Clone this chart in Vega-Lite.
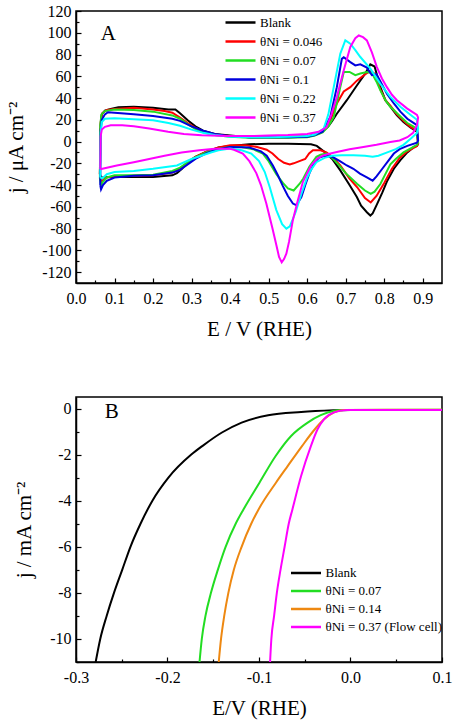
{
"$schema": "https://vega.github.io/schema/vega-lite/v6.json",
"padding": {"left": 4, "top": 2, "right": 8, "bottom": 4},
"columns": 1,
"align": "none",
"spacing": 56,
"resolve": {"scale": {"color": "independent", "x": "independent", "y": "independent"}},
"config": {
  "font": "Liberation Serif",
  "view": {"stroke": "black", "strokeWidth": 1.5},
  "legend": {"labelFont": "Liberation Serif", "labelColor": "black", "padding": 0}
},
"concat": [
{
  "width": 366, "height": 272,
  "encoding": {
    "x": {"field": "E", "type": "quantitative", "scale": {"domain": [0, 0.95], "nice": false, "zero": false},
      "axis": {"title": "E / V (RHE)", "values": [0,0.05,0.1,0.15,0.2,0.25,0.3,0.35,0.4,0.45,0.5,0.55,0.6,0.65,0.7,0.75,0.8,0.85,0.9],
        "labelExpr": "abs(round(datum.value*10)-datum.value*10)<0.001 ? replace(format(datum.value,'.1f'),'−','-') : ''",
        "tickSize": {"condition": {"test": "abs(round(datum.value*10)-datum.value*10)<0.001", "value": -5}, "value": -3},
        "labelPadding": 12, "titlePadding": 10, "grid": false, "labelFlush": false, "labelOverlap": false,
        "labelFont": "Liberation Serif", "labelFontSize": 16, "labelColor": "black", "titleFont": "Liberation Serif", "titleFontSize": 21, "titleFontWeight": "normal", "titleColor": "black",
        "domainColor": "black", "domainWidth": 1.5, "tickColor": "black", "tickWidth": 1.2}},
    "y": {"field": "j", "type": "quantitative", "scale": {"domain": [-130, 120], "nice": false, "zero": false},
      "axis": {"title": "j / μA cm⁻²", "values": [-120,-110,-100,-90,-80,-70,-60,-50,-40,-30,-20,-10,0,10,20,30,40,50,60,70,80,90,100,110,120],
        "labelExpr": "datum.value % 20 == 0 ? replace(format(datum.value,'d'),'−','-') : ''",
        "tickSize": {"condition": {"test": "datum.value % 20 == 0", "value": -5}, "value": -3},
        "labelPadding": 10, "titlePadding": 15, "grid": false, "labelFlush": false, "labelOverlap": false,
        "labelFont": "Liberation Serif", "labelFontSize": 16, "labelColor": "black", "titleFont": "Liberation Serif", "titleFontSize": 21, "titleFontWeight": "normal", "titleColor": "black",
        "domainColor": "black", "domainWidth": 1.5, "tickColor": "black", "tickWidth": 1.2}}
  },
  "layer": [
  {
    "data": {"values": [
{"s":"Blank","o":1,"E":0.062,"j":-30},{"s":"Blank","o":2,"E":0.064,"j":15},{"s":"Blank","o":3,"E":0.067,"j":25},{"s":"Blank","o":4,"E":0.075,"j":28.5},{"s":"Blank","o":5,"E":0.09,"j":30},{"s":"Blank","o":6,"E":0.11,"j":31.5},{"s":"Blank","o":7,"E":0.15,"j":32},{"s":"Blank","o":8,"E":0.2,"j":31},{"s":"Blank","o":9,"E":0.24,"j":29.5},{"s":"Blank","o":10,"E":0.258,"j":29.5},{"s":"Blank","o":11,"E":0.27,"j":26},{"s":"Blank","o":12,"E":0.29,"j":19.5},{"s":"Blank","o":13,"E":0.31,"j":14},{"s":"Blank","o":14,"E":0.33,"j":10},{"s":"Blank","o":15,"E":0.36,"j":7},{"s":"Blank","o":16,"E":0.4,"j":5.5},{"s":"Blank","o":17,"E":0.45,"j":4},{"s":"Blank","o":18,"E":0.5,"j":4},{"s":"Blank","o":19,"E":0.55,"j":4},{"s":"Blank","o":20,"E":0.6,"j":4.5},{"s":"Blank","o":21,"E":0.62,"j":6},{"s":"Blank","o":22,"E":0.64,"j":9},{"s":"Blank","o":23,"E":0.655,"j":14},{"s":"Blank","o":24,"E":0.665,"j":19},{"s":"Blank","o":25,"E":0.677,"j":25.6},{"s":"Blank","o":26,"E":0.703,"j":38},{"s":"Blank","o":27,"E":0.729,"j":51.5},{"s":"Blank","o":28,"E":0.751,"j":62.5},{"s":"Blank","o":29,"E":0.764,"j":71},{"s":"Blank","o":30,"E":0.775,"j":69},{"s":"Blank","o":31,"E":0.79,"j":50},{"s":"Blank","o":32,"E":0.803,"j":38},{"s":"Blank","o":33,"E":0.816,"j":32},{"s":"Blank","o":34,"E":0.833,"j":24},{"s":"Blank","o":35,"E":0.85,"j":18},{"s":"Blank","o":36,"E":0.868,"j":13},{"s":"Blank","o":37,"E":0.885,"j":9},
{"s":"Blank","o":38,"E":0.888,"j":-2},{"s":"Blank","o":39,"E":0.885,"j":-4},{"s":"Blank","o":40,"E":0.877,"j":-5},{"s":"Blank","o":41,"E":0.86,"j":-10},{"s":"Blank","o":42,"E":0.842,"j":-17},{"s":"Blank","o":43,"E":0.825,"j":-25},{"s":"Blank","o":44,"E":0.808,"j":-36},{"s":"Blank","o":45,"E":0.795,"j":-47},{"s":"Blank","o":46,"E":0.782,"j":-57},{"s":"Blank","o":47,"E":0.77,"j":-66},{"s":"Blank","o":48,"E":0.764,"j":-68},{"s":"Blank","o":49,"E":0.755,"j":-65},{"s":"Blank","o":50,"E":0.74,"j":-59},{"s":"Blank","o":51,"E":0.729,"j":-51},{"s":"Blank","o":52,"E":0.71,"j":-40},{"s":"Blank","o":53,"E":0.686,"j":-26.5},{"s":"Blank","o":54,"E":0.665,"j":-16},{"s":"Blank","o":55,"E":0.643,"j":-9},{"s":"Blank","o":56,"E":0.625,"j":-4},{"s":"Blank","o":57,"E":0.61,"j":-2.5},{"s":"Blank","o":58,"E":0.55,"j":-2},{"s":"Blank","o":59,"E":0.5,"j":-2},{"s":"Blank","o":60,"E":0.45,"j":-2.5},{"s":"Blank","o":61,"E":0.4,"j":-4},{"s":"Blank","o":62,"E":0.37,"j":-5.5},{"s":"Blank","o":63,"E":0.34,"j":-9},{"s":"Blank","o":64,"E":0.31,"j":-14},{"s":"Blank","o":65,"E":0.29,"j":-19},{"s":"Blank","o":66,"E":0.275,"j":-25},{"s":"Blank","o":67,"E":0.262,"j":-29},{"s":"Blank","o":68,"E":0.25,"j":-31},{"s":"Blank","o":69,"E":0.2,"j":-32.5},{"s":"Blank","o":70,"E":0.15,"j":-32.5},{"s":"Blank","o":71,"E":0.1,"j":-32.5},{"s":"Blank","o":72,"E":0.08,"j":-32.5},{"s":"Blank","o":73,"E":0.07,"j":-33},{"s":"Blank","o":74,"E":0.065,"j":-33},{"s":"Blank","o":75,"E":0.062,"j":-30},

{"s":"θNi = 0.046","o":1,"E":0.062,"j":-30},{"s":"θNi = 0.046","o":2,"E":0.064,"j":18},{"s":"θNi = 0.046","o":3,"E":0.068,"j":26},{"s":"θNi = 0.046","o":4,"E":0.08,"j":29},{"s":"θNi = 0.046","o":5,"E":0.1,"j":30},{"s":"θNi = 0.046","o":6,"E":0.15,"j":31},{"s":"θNi = 0.046","o":7,"E":0.2,"j":29.5},{"s":"θNi = 0.046","o":8,"E":0.23,"j":28},{"s":"θNi = 0.046","o":9,"E":0.25,"j":26.5},{"s":"θNi = 0.046","o":10,"E":0.27,"j":22},{"s":"θNi = 0.046","o":11,"E":0.29,"j":17},{"s":"θNi = 0.046","o":12,"E":0.31,"j":12.5},{"s":"θNi = 0.046","o":13,"E":0.33,"j":9},{"s":"θNi = 0.046","o":14,"E":0.36,"j":6.5},{"s":"θNi = 0.046","o":15,"E":0.4,"j":5},{"s":"θNi = 0.046","o":16,"E":0.45,"j":4},{"s":"θNi = 0.046","o":17,"E":0.5,"j":4},{"s":"θNi = 0.046","o":18,"E":0.55,"j":4.5},{"s":"θNi = 0.046","o":19,"E":0.6,"j":5},{"s":"θNi = 0.046","o":20,"E":0.62,"j":6.5},{"s":"θNi = 0.046","o":21,"E":0.64,"j":10},{"s":"θNi = 0.046","o":22,"E":0.655,"j":16},{"s":"θNi = 0.046","o":23,"E":0.66,"j":19.5},{"s":"θNi = 0.046","o":24,"E":0.677,"j":35},{"s":"θNi = 0.046","o":25,"E":0.695,"j":46},{"s":"θNi = 0.046","o":26,"E":0.712,"j":50},{"s":"θNi = 0.046","o":27,"E":0.729,"j":56},{"s":"θNi = 0.046","o":28,"E":0.747,"j":61},{"s":"θNi = 0.046","o":29,"E":0.764,"j":65},{"s":"θNi = 0.046","o":30,"E":0.777,"j":62},{"s":"θNi = 0.046","o":31,"E":0.79,"j":48},{"s":"θNi = 0.046","o":32,"E":0.803,"j":38},{"s":"θNi = 0.046","o":33,"E":0.816,"j":33},{"s":"θNi = 0.046","o":34,"E":0.833,"j":25},{"s":"θNi = 0.046","o":35,"E":0.85,"j":19},{"s":"θNi = 0.046","o":36,"E":0.868,"j":13.5},{"s":"θNi = 0.046","o":37,"E":0.885,"j":10},
{"s":"θNi = 0.046","o":38,"E":0.888,"j":-2},{"s":"θNi = 0.046","o":39,"E":0.885,"j":-4},{"s":"θNi = 0.046","o":40,"E":0.86,"j":-9},{"s":"θNi = 0.046","o":41,"E":0.84,"j":-15},{"s":"θNi = 0.046","o":42,"E":0.82,"j":-25},{"s":"θNi = 0.046","o":43,"E":0.8,"j":-38},{"s":"θNi = 0.046","o":44,"E":0.78,"j":-50},{"s":"θNi = 0.046","o":45,"E":0.765,"j":-56},{"s":"θNi = 0.046","o":46,"E":0.75,"j":-52},{"s":"θNi = 0.046","o":47,"E":0.73,"j":-42},{"s":"θNi = 0.046","o":48,"E":0.71,"j":-34},{"s":"θNi = 0.046","o":49,"E":0.686,"j":-22},{"s":"θNi = 0.046","o":50,"E":0.665,"j":-14},{"s":"θNi = 0.046","o":51,"E":0.65,"j":-10},{"s":"θNi = 0.046","o":52,"E":0.635,"j":-8},{"s":"θNi = 0.046","o":53,"E":0.615,"j":-8},{"s":"θNi = 0.046","o":54,"E":0.605,"j":-11},{"s":"θNi = 0.046","o":55,"E":0.595,"j":-16},{"s":"θNi = 0.046","o":56,"E":0.58,"j":-18},{"s":"θNi = 0.046","o":57,"E":0.565,"j":-20},{"s":"θNi = 0.046","o":58,"E":0.555,"j":-21},{"s":"θNi = 0.046","o":59,"E":0.54,"j":-19.5},{"s":"θNi = 0.046","o":60,"E":0.525,"j":-16},{"s":"θNi = 0.046","o":61,"E":0.51,"j":-11},{"s":"θNi = 0.046","o":62,"E":0.495,"j":-7.5},{"s":"θNi = 0.046","o":63,"E":0.47,"j":-5},{"s":"θNi = 0.046","o":64,"E":0.44,"j":-3.5},{"s":"θNi = 0.046","o":65,"E":0.4,"j":-3.5},{"s":"θNi = 0.046","o":66,"E":0.37,"j":-5.5},{"s":"θNi = 0.046","o":67,"E":0.34,"j":-9},{"s":"θNi = 0.046","o":68,"E":0.31,"j":-14},{"s":"θNi = 0.046","o":69,"E":0.29,"j":-19},{"s":"θNi = 0.046","o":70,"E":0.27,"j":-25},{"s":"θNi = 0.046","o":71,"E":0.25,"j":-28.5},{"s":"θNi = 0.046","o":72,"E":0.2,"j":-31},{"s":"θNi = 0.046","o":73,"E":0.15,"j":-31.5},{"s":"θNi = 0.046","o":74,"E":0.1,"j":-32},{"s":"θNi = 0.046","o":75,"E":0.08,"j":-33},{"s":"θNi = 0.046","o":76,"E":0.07,"j":-35},{"s":"θNi = 0.046","o":77,"E":0.065,"j":-37},{"s":"θNi = 0.046","o":78,"E":0.062,"j":-30},

{"s":"θNi = 0.07","o":1,"E":0.062,"j":-34},{"s":"θNi = 0.07","o":2,"E":0.063,"j":15},{"s":"θNi = 0.07","o":3,"E":0.066,"j":25},{"s":"θNi = 0.07","o":4,"E":0.075,"j":28},{"s":"θNi = 0.07","o":5,"E":0.1,"j":29.5},{"s":"θNi = 0.07","o":6,"E":0.15,"j":29},{"s":"θNi = 0.07","o":7,"E":0.2,"j":27.5},{"s":"θNi = 0.07","o":8,"E":0.25,"j":24},{"s":"θNi = 0.07","o":9,"E":0.27,"j":21},{"s":"θNi = 0.07","o":10,"E":0.29,"j":16},{"s":"θNi = 0.07","o":11,"E":0.31,"j":11.5},{"s":"θNi = 0.07","o":12,"E":0.33,"j":8.5},{"s":"θNi = 0.07","o":13,"E":0.36,"j":6},{"s":"θNi = 0.07","o":14,"E":0.4,"j":4.5},{"s":"θNi = 0.07","o":15,"E":0.45,"j":3.5},{"s":"θNi = 0.07","o":16,"E":0.5,"j":3.5},{"s":"θNi = 0.07","o":17,"E":0.55,"j":3.5},{"s":"θNi = 0.07","o":18,"E":0.6,"j":4},{"s":"θNi = 0.07","o":19,"E":0.62,"j":5.5},{"s":"θNi = 0.07","o":20,"E":0.64,"j":8.5},{"s":"θNi = 0.07","o":21,"E":0.655,"j":14},{"s":"θNi = 0.07","o":22,"E":0.669,"j":22.5},{"s":"θNi = 0.07","o":23,"E":0.686,"j":50},{"s":"θNi = 0.07","o":24,"E":0.695,"j":64},{"s":"θNi = 0.07","o":25,"E":0.71,"j":64},{"s":"θNi = 0.07","o":26,"E":0.725,"j":61},{"s":"θNi = 0.07","o":27,"E":0.738,"j":62.5},{"s":"θNi = 0.07","o":28,"E":0.755,"j":64},{"s":"θNi = 0.07","o":29,"E":0.768,"j":63},{"s":"θNi = 0.07","o":30,"E":0.78,"j":55},{"s":"θNi = 0.07","o":31,"E":0.79,"j":47},{"s":"θNi = 0.07","o":32,"E":0.803,"j":38},{"s":"θNi = 0.07","o":33,"E":0.816,"j":32},{"s":"θNi = 0.07","o":34,"E":0.842,"j":23},{"s":"θNi = 0.07","o":35,"E":0.86,"j":17},{"s":"θNi = 0.07","o":36,"E":0.877,"j":13.5},{"s":"θNi = 0.07","o":37,"E":0.885,"j":10},
{"s":"θNi = 0.07","o":38,"E":0.888,"j":-1},{"s":"θNi = 0.07","o":39,"E":0.885,"j":-3},{"s":"θNi = 0.07","o":40,"E":0.87,"j":-6},{"s":"θNi = 0.07","o":41,"E":0.85,"j":-10},{"s":"θNi = 0.07","o":42,"E":0.83,"j":-16},{"s":"θNi = 0.07","o":43,"E":0.816,"j":-21},{"s":"θNi = 0.07","o":44,"E":0.8,"j":-32},{"s":"θNi = 0.07","o":45,"E":0.79,"j":-39},{"s":"θNi = 0.07","o":46,"E":0.775,"j":-46},{"s":"θNi = 0.07","o":47,"E":0.765,"j":-48},{"s":"θNi = 0.07","o":48,"E":0.75,"j":-45},{"s":"θNi = 0.07","o":49,"E":0.73,"j":-39},{"s":"θNi = 0.07","o":50,"E":0.7,"j":-29},{"s":"θNi = 0.07","o":51,"E":0.686,"j":-23},{"s":"θNi = 0.07","o":52,"E":0.665,"j":-15},{"s":"θNi = 0.07","o":53,"E":0.65,"j":-11},{"s":"θNi = 0.07","o":54,"E":0.635,"j":-12},{"s":"θNi = 0.07","o":55,"E":0.624,"j":-14},{"s":"θNi = 0.07","o":56,"E":0.606,"j":-23},{"s":"θNi = 0.07","o":57,"E":0.59,"j":-34},{"s":"θNi = 0.07","o":58,"E":0.58,"j":-39},{"s":"θNi = 0.07","o":59,"E":0.565,"j":-45},{"s":"θNi = 0.07","o":60,"E":0.55,"j":-43},{"s":"θNi = 0.07","o":61,"E":0.537,"j":-38},{"s":"θNi = 0.07","o":62,"E":0.52,"j":-30},{"s":"θNi = 0.07","o":63,"E":0.5,"j":-18},{"s":"θNi = 0.07","o":64,"E":0.485,"j":-11},{"s":"θNi = 0.07","o":65,"E":0.46,"j":-7},{"s":"θNi = 0.07","o":66,"E":0.43,"j":-5},{"s":"θNi = 0.07","o":67,"E":0.4,"j":-5},{"s":"θNi = 0.07","o":68,"E":0.37,"j":-6.5},{"s":"θNi = 0.07","o":69,"E":0.34,"j":-9.5},{"s":"θNi = 0.07","o":70,"E":0.31,"j":-14.5},{"s":"θNi = 0.07","o":71,"E":0.29,"j":-19},{"s":"θNi = 0.07","o":72,"E":0.27,"j":-24},{"s":"θNi = 0.07","o":73,"E":0.25,"j":-27},{"s":"θNi = 0.07","o":74,"E":0.2,"j":-30.5},{"s":"θNi = 0.07","o":75,"E":0.15,"j":-31},{"s":"θNi = 0.07","o":76,"E":0.1,"j":-31},{"s":"θNi = 0.07","o":77,"E":0.08,"j":-33},{"s":"θNi = 0.07","o":78,"E":0.07,"j":-37},{"s":"θNi = 0.07","o":79,"E":0.065,"j":-40},{"s":"θNi = 0.07","o":80,"E":0.062,"j":-34},

{"s":"θNi = 0.1","o":1,"E":0.063,"j":-40},{"s":"θNi = 0.1","o":2,"E":0.064,"j":10},{"s":"θNi = 0.1","o":3,"E":0.067,"j":20},{"s":"θNi = 0.1","o":4,"E":0.075,"j":25},{"s":"θNi = 0.1","o":5,"E":0.083,"j":27},{"s":"θNi = 0.1","o":6,"E":0.1,"j":26.5},{"s":"θNi = 0.1","o":7,"E":0.15,"j":25},{"s":"θNi = 0.1","o":8,"E":0.2,"j":23.5},{"s":"θNi = 0.1","o":9,"E":0.25,"j":21},{"s":"θNi = 0.1","o":10,"E":0.27,"j":19},{"s":"θNi = 0.1","o":11,"E":0.3,"j":14},{"s":"θNi = 0.1","o":12,"E":0.33,"j":10},{"s":"θNi = 0.1","o":13,"E":0.36,"j":7},{"s":"θNi = 0.1","o":14,"E":0.4,"j":5},{"s":"θNi = 0.1","o":15,"E":0.45,"j":4},{"s":"θNi = 0.1","o":16,"E":0.5,"j":4},{"s":"θNi = 0.1","o":17,"E":0.55,"j":4},{"s":"θNi = 0.1","o":18,"E":0.6,"j":4.5},{"s":"θNi = 0.1","o":19,"E":0.62,"j":6},{"s":"θNi = 0.1","o":20,"E":0.64,"j":9},{"s":"θNi = 0.1","o":21,"E":0.66,"j":22.5},{"s":"θNi = 0.1","o":22,"E":0.677,"j":50},{"s":"θNi = 0.1","o":23,"E":0.69,"j":76},{"s":"θNi = 0.1","o":24,"E":0.695,"j":77.5},{"s":"θNi = 0.1","o":25,"E":0.712,"j":73},{"s":"θNi = 0.1","o":26,"E":0.725,"j":70},{"s":"θNi = 0.1","o":27,"E":0.738,"j":71},{"s":"θNi = 0.1","o":28,"E":0.755,"j":68},{"s":"θNi = 0.1","o":29,"E":0.768,"j":61},{"s":"θNi = 0.1","o":30,"E":0.78,"j":62},{"s":"θNi = 0.1","o":31,"E":0.795,"j":52},{"s":"θNi = 0.1","o":32,"E":0.807,"j":44},{"s":"θNi = 0.1","o":33,"E":0.825,"j":35},{"s":"θNi = 0.1","o":34,"E":0.842,"j":27.5},{"s":"θNi = 0.1","o":35,"E":0.86,"j":21},{"s":"θNi = 0.1","o":36,"E":0.877,"j":17},{"s":"θNi = 0.1","o":37,"E":0.885,"j":15},
{"s":"θNi = 0.1","o":38,"E":0.888,"j":1},{"s":"θNi = 0.1","o":39,"E":0.885,"j":-1},{"s":"θNi = 0.1","o":40,"E":0.86,"j":-4},{"s":"θNi = 0.1","o":41,"E":0.84,"j":-7},{"s":"θNi = 0.1","o":42,"E":0.825,"j":-11},{"s":"θNi = 0.1","o":43,"E":0.81,"j":-18},{"s":"θNi = 0.1","o":44,"E":0.795,"j":-25},{"s":"θNi = 0.1","o":45,"E":0.78,"j":-32},{"s":"θNi = 0.1","o":46,"E":0.77,"j":-36},{"s":"θNi = 0.1","o":47,"E":0.755,"j":-33},{"s":"θNi = 0.1","o":48,"E":0.737,"j":-29.5},{"s":"θNi = 0.1","o":49,"E":0.72,"j":-25},{"s":"θNi = 0.1","o":50,"E":0.703,"j":-22},{"s":"θNi = 0.1","o":51,"E":0.685,"j":-18},{"s":"θNi = 0.1","o":52,"E":0.665,"j":-14},{"s":"θNi = 0.1","o":53,"E":0.645,"j":-13},{"s":"θNi = 0.1","o":54,"E":0.63,"j":-15},{"s":"θNi = 0.1","o":55,"E":0.618,"j":-20},{"s":"θNi = 0.1","o":56,"E":0.606,"j":-29},{"s":"θNi = 0.1","o":57,"E":0.595,"j":-40},{"s":"θNi = 0.1","o":58,"E":0.585,"j":-51},{"s":"θNi = 0.1","o":59,"E":0.572,"j":-58.5},{"s":"θNi = 0.1","o":60,"E":0.563,"j":-57},{"s":"θNi = 0.1","o":61,"E":0.55,"j":-50},{"s":"θNi = 0.1","o":62,"E":0.537,"j":-41},{"s":"θNi = 0.1","o":63,"E":0.524,"j":-31},{"s":"θNi = 0.1","o":64,"E":0.511,"j":-22},{"s":"θNi = 0.1","o":65,"E":0.495,"j":-13},{"s":"θNi = 0.1","o":66,"E":0.48,"j":-9},{"s":"θNi = 0.1","o":67,"E":0.45,"j":-5.5},{"s":"θNi = 0.1","o":68,"E":0.4,"j":-5},{"s":"θNi = 0.1","o":69,"E":0.37,"j":-7},{"s":"θNi = 0.1","o":70,"E":0.34,"j":-10.5},{"s":"θNi = 0.1","o":71,"E":0.31,"j":-16},{"s":"θNi = 0.1","o":72,"E":0.29,"j":-21},{"s":"θNi = 0.1","o":73,"E":0.27,"j":-26},{"s":"θNi = 0.1","o":74,"E":0.25,"j":-28.5},{"s":"θNi = 0.1","o":75,"E":0.2,"j":-31},{"s":"θNi = 0.1","o":76,"E":0.15,"j":-31.5},{"s":"θNi = 0.1","o":77,"E":0.1,"j":-33},{"s":"θNi = 0.1","o":78,"E":0.08,"j":-36},{"s":"θNi = 0.1","o":79,"E":0.07,"j":-40},{"s":"θNi = 0.1","o":80,"E":0.065,"j":-44},{"s":"θNi = 0.1","o":81,"E":0.063,"j":-40},

{"s":"θNi = 0.22","o":1,"E":0.063,"j":-33},{"s":"θNi = 0.22","o":2,"E":0.064,"j":8},{"s":"θNi = 0.22","o":3,"E":0.067,"j":18},{"s":"θNi = 0.22","o":4,"E":0.075,"j":21},{"s":"θNi = 0.22","o":5,"E":0.1,"j":21.5},{"s":"θNi = 0.22","o":6,"E":0.15,"j":20.5},{"s":"θNi = 0.22","o":7,"E":0.2,"j":19.5},{"s":"θNi = 0.22","o":8,"E":0.24,"j":17},{"s":"θNi = 0.22","o":9,"E":0.27,"j":14.5},{"s":"θNi = 0.22","o":10,"E":0.3,"j":11},{"s":"θNi = 0.22","o":11,"E":0.33,"j":8},{"s":"θNi = 0.22","o":12,"E":0.36,"j":6},{"s":"θNi = 0.22","o":13,"E":0.4,"j":4.5},{"s":"θNi = 0.22","o":14,"E":0.45,"j":4},{"s":"θNi = 0.22","o":15,"E":0.5,"j":4},{"s":"θNi = 0.22","o":16,"E":0.55,"j":4.5},{"s":"θNi = 0.22","o":17,"E":0.6,"j":5},{"s":"θNi = 0.22","o":18,"E":0.62,"j":6.5},{"s":"θNi = 0.22","o":19,"E":0.643,"j":12},{"s":"θNi = 0.22","o":20,"E":0.655,"j":25},{"s":"θNi = 0.22","o":21,"E":0.669,"j":50},{"s":"θNi = 0.22","o":22,"E":0.686,"j":80.8},{"s":"θNi = 0.22","o":23,"E":0.699,"j":93},{"s":"θNi = 0.22","o":24,"E":0.712,"j":90},{"s":"θNi = 0.22","o":25,"E":0.725,"j":84},{"s":"θNi = 0.22","o":26,"E":0.738,"j":77.7},{"s":"θNi = 0.22","o":27,"E":0.764,"j":67},{"s":"θNi = 0.22","o":28,"E":0.79,"j":53},{"s":"θNi = 0.22","o":29,"E":0.816,"j":41},{"s":"θNi = 0.22","o":30,"E":0.842,"j":32},{"s":"θNi = 0.22","o":31,"E":0.868,"j":24.7},{"s":"θNi = 0.22","o":32,"E":0.885,"j":20},
{"s":"θNi = 0.22","o":33,"E":0.888,"j":12},{"s":"θNi = 0.22","o":34,"E":0.885,"j":8},{"s":"θNi = 0.22","o":35,"E":0.87,"j":3},{"s":"θNi = 0.22","o":36,"E":0.85,"j":-3},{"s":"θNi = 0.22","o":37,"E":0.83,"j":-7},{"s":"θNi = 0.22","o":38,"E":0.808,"j":-10},{"s":"θNi = 0.22","o":39,"E":0.785,"j":-13},{"s":"θNi = 0.22","o":40,"E":0.77,"j":-14},{"s":"θNi = 0.22","o":41,"E":0.75,"j":-13},{"s":"θNi = 0.22","o":42,"E":0.72,"j":-12.6},{"s":"θNi = 0.22","o":43,"E":0.69,"j":-12.6},{"s":"θNi = 0.22","o":44,"E":0.665,"j":-13},{"s":"θNi = 0.22","o":45,"E":0.645,"j":-15},{"s":"θNi = 0.22","o":46,"E":0.624,"j":-19},{"s":"θNi = 0.22","o":47,"E":0.61,"j":-26},{"s":"θNi = 0.22","o":48,"E":0.6,"j":-33},{"s":"θNi = 0.22","o":49,"E":0.585,"j":-48},{"s":"θNi = 0.22","o":50,"E":0.57,"j":-65},{"s":"θNi = 0.22","o":51,"E":0.555,"j":-78},{"s":"θNi = 0.22","o":52,"E":0.546,"j":-80},{"s":"θNi = 0.22","o":53,"E":0.535,"j":-76},{"s":"θNi = 0.22","o":54,"E":0.52,"j":-63},{"s":"θNi = 0.22","o":55,"E":0.503,"j":-42},{"s":"θNi = 0.22","o":56,"E":0.49,"j":-28},{"s":"θNi = 0.22","o":57,"E":0.475,"j":-18},{"s":"θNi = 0.22","o":58,"E":0.455,"j":-11},{"s":"θNi = 0.22","o":59,"E":0.43,"j":-8},{"s":"θNi = 0.22","o":60,"E":0.4,"j":-6.5},{"s":"θNi = 0.22","o":61,"E":0.37,"j":-8},{"s":"θNi = 0.22","o":62,"E":0.35,"j":-10},{"s":"θNi = 0.22","o":63,"E":0.3,"j":-16},{"s":"θNi = 0.22","o":64,"E":0.262,"j":-22},{"s":"θNi = 0.22","o":65,"E":0.2,"j":-25},{"s":"θNi = 0.22","o":66,"E":0.15,"j":-27},{"s":"θNi = 0.22","o":67,"E":0.1,"j":-28},{"s":"θNi = 0.22","o":68,"E":0.08,"j":-30},{"s":"θNi = 0.22","o":69,"E":0.068,"j":-34},{"s":"θNi = 0.22","o":70,"E":0.063,"j":-33},

{"s":"θNi = 0.37","o":1,"E":0.063,"j":-25.5},{"s":"θNi = 0.37","o":2,"E":0.064,"j":5},{"s":"θNi = 0.37","o":3,"E":0.067,"j":11},{"s":"θNi = 0.37","o":4,"E":0.075,"j":13.5},{"s":"θNi = 0.37","o":5,"E":0.09,"j":15},{"s":"θNi = 0.37","o":6,"E":0.12,"j":15},{"s":"θNi = 0.37","o":7,"E":0.15,"j":14},{"s":"θNi = 0.37","o":8,"E":0.19,"j":12},{"s":"θNi = 0.37","o":9,"E":0.239,"j":9},{"s":"θNi = 0.37","o":10,"E":0.28,"j":7},{"s":"θNi = 0.37","o":11,"E":0.326,"j":5.9},{"s":"θNi = 0.37","o":12,"E":0.395,"j":5},{"s":"θNi = 0.37","o":13,"E":0.45,"j":5},{"s":"θNi = 0.37","o":14,"E":0.5,"j":5.5},{"s":"θNi = 0.37","o":15,"E":0.55,"j":6},{"s":"θNi = 0.37","o":16,"E":0.6,"j":7},{"s":"θNi = 0.37","o":17,"E":0.63,"j":9},{"s":"θNi = 0.37","o":18,"E":0.65,"j":13},{"s":"θNi = 0.37","o":19,"E":0.663,"j":25},{"s":"θNi = 0.37","o":20,"E":0.677,"j":41},{"s":"θNi = 0.37","o":21,"E":0.695,"j":65.5},{"s":"θNi = 0.37","o":22,"E":0.712,"j":87},{"s":"θNi = 0.37","o":23,"E":0.725,"j":95},{"s":"θNi = 0.37","o":24,"E":0.734,"j":97.5},{"s":"θNi = 0.37","o":25,"E":0.745,"j":96},{"s":"θNi = 0.37","o":26,"E":0.755,"j":93},{"s":"θNi = 0.37","o":27,"E":0.768,"j":82},{"s":"θNi = 0.37","o":28,"E":0.781,"j":68.5},{"s":"θNi = 0.37","o":29,"E":0.794,"j":58},{"s":"θNi = 0.37","o":30,"E":0.807,"j":50},{"s":"θNi = 0.37","o":31,"E":0.82,"j":43},{"s":"θNi = 0.37","o":32,"E":0.833,"j":38},{"s":"θNi = 0.37","o":33,"E":0.859,"j":30.5},{"s":"θNi = 0.37","o":34,"E":0.885,"j":24.5},
{"s":"θNi = 0.37","o":35,"E":0.888,"j":22},{"s":"θNi = 0.37","o":36,"E":0.885,"j":15},{"s":"θNi = 0.37","o":37,"E":0.875,"j":8},{"s":"θNi = 0.37","o":38,"E":0.86,"j":4},{"s":"θNi = 0.37","o":39,"E":0.84,"j":1},{"s":"θNi = 0.37","o":40,"E":0.816,"j":-0.5},{"s":"θNi = 0.37","o":41,"E":0.78,"j":-3},{"s":"θNi = 0.37","o":42,"E":0.746,"j":-5},{"s":"θNi = 0.37","o":43,"E":0.71,"j":-7},{"s":"θNi = 0.37","o":44,"E":0.677,"j":-9.6},{"s":"θNi = 0.37","o":45,"E":0.655,"j":-11.5},{"s":"θNi = 0.37","o":46,"E":0.64,"j":-13},{"s":"θNi = 0.37","o":47,"E":0.625,"j":-16},{"s":"θNi = 0.37","o":48,"E":0.61,"j":-22},{"s":"θNi = 0.37","o":49,"E":0.6,"j":-29},{"s":"θNi = 0.37","o":50,"E":0.589,"j":-37},{"s":"θNi = 0.37","o":51,"E":0.575,"j":-55},{"s":"θNi = 0.37","o":52,"E":0.563,"j":-72},{"s":"θNi = 0.37","o":53,"E":0.553,"j":-92},{"s":"θNi = 0.37","o":54,"E":0.546,"j":-103},{"s":"θNi = 0.37","o":55,"E":0.54,"j":-108},{"s":"θNi = 0.37","o":56,"E":0.534,"j":-111},{"s":"θNi = 0.37","o":57,"E":0.527,"j":-106},{"s":"θNi = 0.37","o":58,"E":0.52,"j":-95},{"s":"θNi = 0.37","o":59,"E":0.51,"j":-80},{"s":"θNi = 0.37","o":60,"E":0.494,"j":-57},{"s":"θNi = 0.37","o":61,"E":0.48,"j":-40},{"s":"θNi = 0.37","o":62,"E":0.468,"j":-29},{"s":"θNi = 0.37","o":63,"E":0.45,"j":-18},{"s":"θNi = 0.37","o":64,"E":0.433,"j":-11},{"s":"θNi = 0.37","o":65,"E":0.41,"j":-7.5},{"s":"θNi = 0.37","o":66,"E":0.398,"j":-6.5},{"s":"θNi = 0.37","o":67,"E":0.36,"j":-6.5},{"s":"θNi = 0.37","o":68,"E":0.32,"j":-8},{"s":"θNi = 0.37","o":69,"E":0.274,"j":-10},{"s":"θNi = 0.37","o":70,"E":0.23,"j":-13},{"s":"θNi = 0.37","o":71,"E":0.19,"j":-16},{"s":"θNi = 0.37","o":72,"E":0.15,"j":-19},{"s":"θNi = 0.37","o":73,"E":0.106,"j":-22},{"s":"θNi = 0.37","o":74,"E":0.08,"j":-24},{"s":"θNi = 0.37","o":75,"E":0.063,"j":-25.5}
    ]},
    "mark": {"type": "line", "strokeWidth": 2, "interpolate": "linear"},
    "encoding": {
      "color": {"field": "s", "type": "nominal",
        "scale": {"domain": ["Blank","θNi = 0.046","θNi = 0.07","θNi = 0.1","θNi = 0.22","θNi = 0.37"], "range": ["#000000","#ff0000","#22dd22","#0000dd","#00ffff","#ff00ff"]},
        "legend": {"orient": "none", "legendX": 153, "legendY": 0, "title": null, "symbolType": "M-1.5,0L1.5,0", "symbolSize": 400, "symbolStrokeWidth": 2.5, "labelFontSize": 13, "labelFont": "Liberation Serif", "labelOffset": 8, "rowPadding": 0}},
      "order": {"field": "o", "type": "quantitative"}
    }
  },
  {
    "data": {"values": [{"lab": "A", "E": 0.084, "j": 99}]},
    "mark": {"type": "text", "fontSize": 21, "font": "Liberation Serif", "color": "black"},
    "encoding": {"text": {"field": "lab"}}
  }
  ]
},
{
  "width": 366, "height": 265,
  "encoding": {
    "x": {"field": "E", "type": "quantitative", "scale": {"domain": [-0.3, 0.1], "nice": false, "zero": false},
      "axis": {"title": "E/V (RHE)", "values": [-0.3,-0.25,-0.2,-0.15,-0.1,-0.05,0,0.05,0.1],
        "labelExpr": "abs(round(datum.value*10)-datum.value*10)<0.001 ? replace(format(datum.value,'.1f'),'−','-') : ''",
        "tickSize": {"condition": {"test": "abs(round(datum.value*10)-datum.value*10)<0.001", "value": -5}, "value": -3},
        "labelPadding": 12, "titlePadding": 10, "grid": false, "labelFlush": false, "labelOverlap": false,
        "labelFont": "Liberation Serif", "labelFontSize": 16, "labelColor": "black", "titleFont": "Liberation Serif", "titleFontSize": 21, "titleFontWeight": "normal", "titleColor": "black",
        "domainColor": "black", "domainWidth": 1.5, "tickColor": "black", "tickWidth": 1.2}},
    "y": {"field": "j", "type": "quantitative", "scale": {"domain": [-11, 0.5], "nice": false, "zero": false},
      "axis": {"title": "j / mA cm⁻²", "values": [-11,-10,-9,-8,-7,-6,-5,-4,-3,-2,-1,0],
        "labelExpr": "datum.value % 2 == 0 ? replace(format(datum.value,'d'),'−','-') : ''",
        "tickSize": {"condition": {"test": "datum.value % 2 == 0", "value": -5}, "value": -3},
        "labelPadding": 10, "titlePadding": 15, "grid": false, "labelFlush": false, "labelOverlap": false,
        "labelFont": "Liberation Serif", "labelFontSize": 16, "labelColor": "black", "titleFont": "Liberation Serif", "titleFontSize": 21, "titleFontWeight": "normal", "titleColor": "black",
        "domainColor": "black", "domainWidth": 1.5, "tickColor": "black", "tickWidth": 1.2}}
  },
  "layer": [
  {
    "data": {"values": [
{"c":"Blank","E":-0.2785,"j":-11},{"c":"Blank","E":-0.2735,"j":-10},{"c":"Blank","E":-0.2665,"j":-9},{"c":"Blank","E":-0.2585,"j":-8},{"c":"Blank","E":-0.2495,"j":-7},{"c":"Blank","E":-0.2405,"j":-6},{"c":"Blank","E":-0.2295,"j":-5},{"c":"Blank","E":-0.2165,"j":-4},{"c":"Blank","E":-0.199,"j":-3},{"c":"Blank","E":-0.174,"j":-2},{"c":"Blank","E":-0.162,"j":-1.63},{"c":"Blank","E":-0.1405,"j":-1.04},{"c":"Blank","E":-0.119,"j":-0.61},{"c":"Blank","E":-0.09,"j":-0.29},{"c":"Blank","E":-0.054,"j":-0.15},{"c":"Blank","E":-0.018,"j":-0.08},{"c":"Blank","E":0,"j":-0.06},{"c":"Blank","E":0.1,"j":-0.06},
{"c":"θNi = 0.07","E":-0.165,"j":-11},{"c":"θNi = 0.07","E":-0.1625,"j":-10},{"c":"θNi = 0.07","E":-0.1585,"j":-9},{"c":"θNi = 0.07","E":-0.1525,"j":-8},{"c":"θNi = 0.07","E":-0.145,"j":-7},{"c":"θNi = 0.07","E":-0.1365,"j":-6},{"c":"θNi = 0.07","E":-0.1255,"j":-5},{"c":"θNi = 0.07","E":-0.117,"j":-4.38},{"c":"θNi = 0.07","E":-0.0995,"j":-3.22},{"c":"θNi = 0.07","E":-0.0818,"j":-2.06},{"c":"θNi = 0.07","E":-0.0649,"j":-1.19},{"c":"θNi = 0.07","E":-0.0468,"j":-0.61},{"c":"θNi = 0.07","E":-0.0325,"j":-0.29},{"c":"θNi = 0.07","E":-0.018,"j":-0.1},{"c":"θNi = 0.07","E":-0.008,"j":-0.06},{"c":"θNi = 0.07","E":0.1,"j":-0.05},
{"c":"θNi = 0.14","E":-0.144,"j":-11},{"c":"θNi = 0.14","E":-0.1415,"j":-10},{"c":"θNi = 0.14","E":-0.138,"j":-9},{"c":"θNi = 0.14","E":-0.1335,"j":-8},{"c":"θNi = 0.14","E":-0.1275,"j":-7},{"c":"θNi = 0.14","E":-0.119,"j":-6},{"c":"θNi = 0.14","E":-0.1085,"j":-5},{"c":"θNi = 0.14","E":-0.1005,"j":-4.38},{"c":"θNi = 0.14","E":-0.0815,"j":-3.22},{"c":"θNi = 0.14","E":-0.0685,"j":-2.49},{"c":"θNi = 0.14","E":-0.053,"j":-1.63},{"c":"θNi = 0.14","E":-0.039,"j":-0.9},{"c":"θNi = 0.14","E":-0.029,"j":-0.47},{"c":"θNi = 0.14","E":-0.018,"j":-0.17},{"c":"θNi = 0.14","E":-0.0075,"j":-0.06},{"c":"θNi = 0.14","E":0.1,"j":-0.05},
{"c":"θNi = 0.37 (Flow cell)","E":-0.0879,"j":-11},{"c":"θNi = 0.37 (Flow cell)","E":-0.0865,"j":-10},{"c":"θNi = 0.37 (Flow cell)","E":-0.0835,"j":-9},{"c":"θNi = 0.37 (Flow cell)","E":-0.0805,"j":-8},{"c":"θNi = 0.37 (Flow cell)","E":-0.0765,"j":-7},{"c":"θNi = 0.37 (Flow cell)","E":-0.072,"j":-6},{"c":"θNi = 0.37 (Flow cell)","E":-0.0675,"j":-5},{"c":"θNi = 0.37 (Flow cell)","E":-0.0635,"j":-4.38},{"c":"θNi = 0.37 (Flow cell)","E":-0.054,"j":-2.93},{"c":"θNi = 0.37 (Flow cell)","E":-0.0433,"j":-1.63},{"c":"θNi = 0.37 (Flow cell)","E":-0.036,"j":-0.9},{"c":"θNi = 0.37 (Flow cell)","E":-0.029,"j":-0.47},{"c":"θNi = 0.37 (Flow cell)","E":-0.018,"j":-0.17},{"c":"θNi = 0.37 (Flow cell)","E":-0.0036,"j":-0.06},{"c":"θNi = 0.37 (Flow cell)","E":0.1,"j":-0.06}
    ]},
    "mark": {"type": "line", "strokeWidth": 2, "interpolate": "monotone", "clip": true},
    "encoding": {
      "color": {"field": "c", "type": "nominal",
        "scale": {"domain": ["Blank","θNi = 0.07","θNi = 0.14","θNi = 0.37 (Flow cell)"], "range": ["#000000","#22dd22","#ee8811","#ff00ff"]},
        "legend": {"orient": "none", "legendX": 219, "legendY": 165, "title": null, "symbolType": "M-1.58,0L1.58,0", "symbolSize": 361, "symbolStrokeWidth": 2.5, "labelFontSize": 13, "labelFont": "Liberation Serif", "labelOffset": 8.5, "rowPadding": 0}}
    }
  },
  {
    "data": {"values": [{"lab": "B", "E": -0.261, "j": -0.17}]},
    "mark": {"type": "text", "fontSize": 21, "font": "Liberation Serif", "color": "black"},
    "encoding": {"text": {"field": "lab"}}
  }
  ]
}
]
}
